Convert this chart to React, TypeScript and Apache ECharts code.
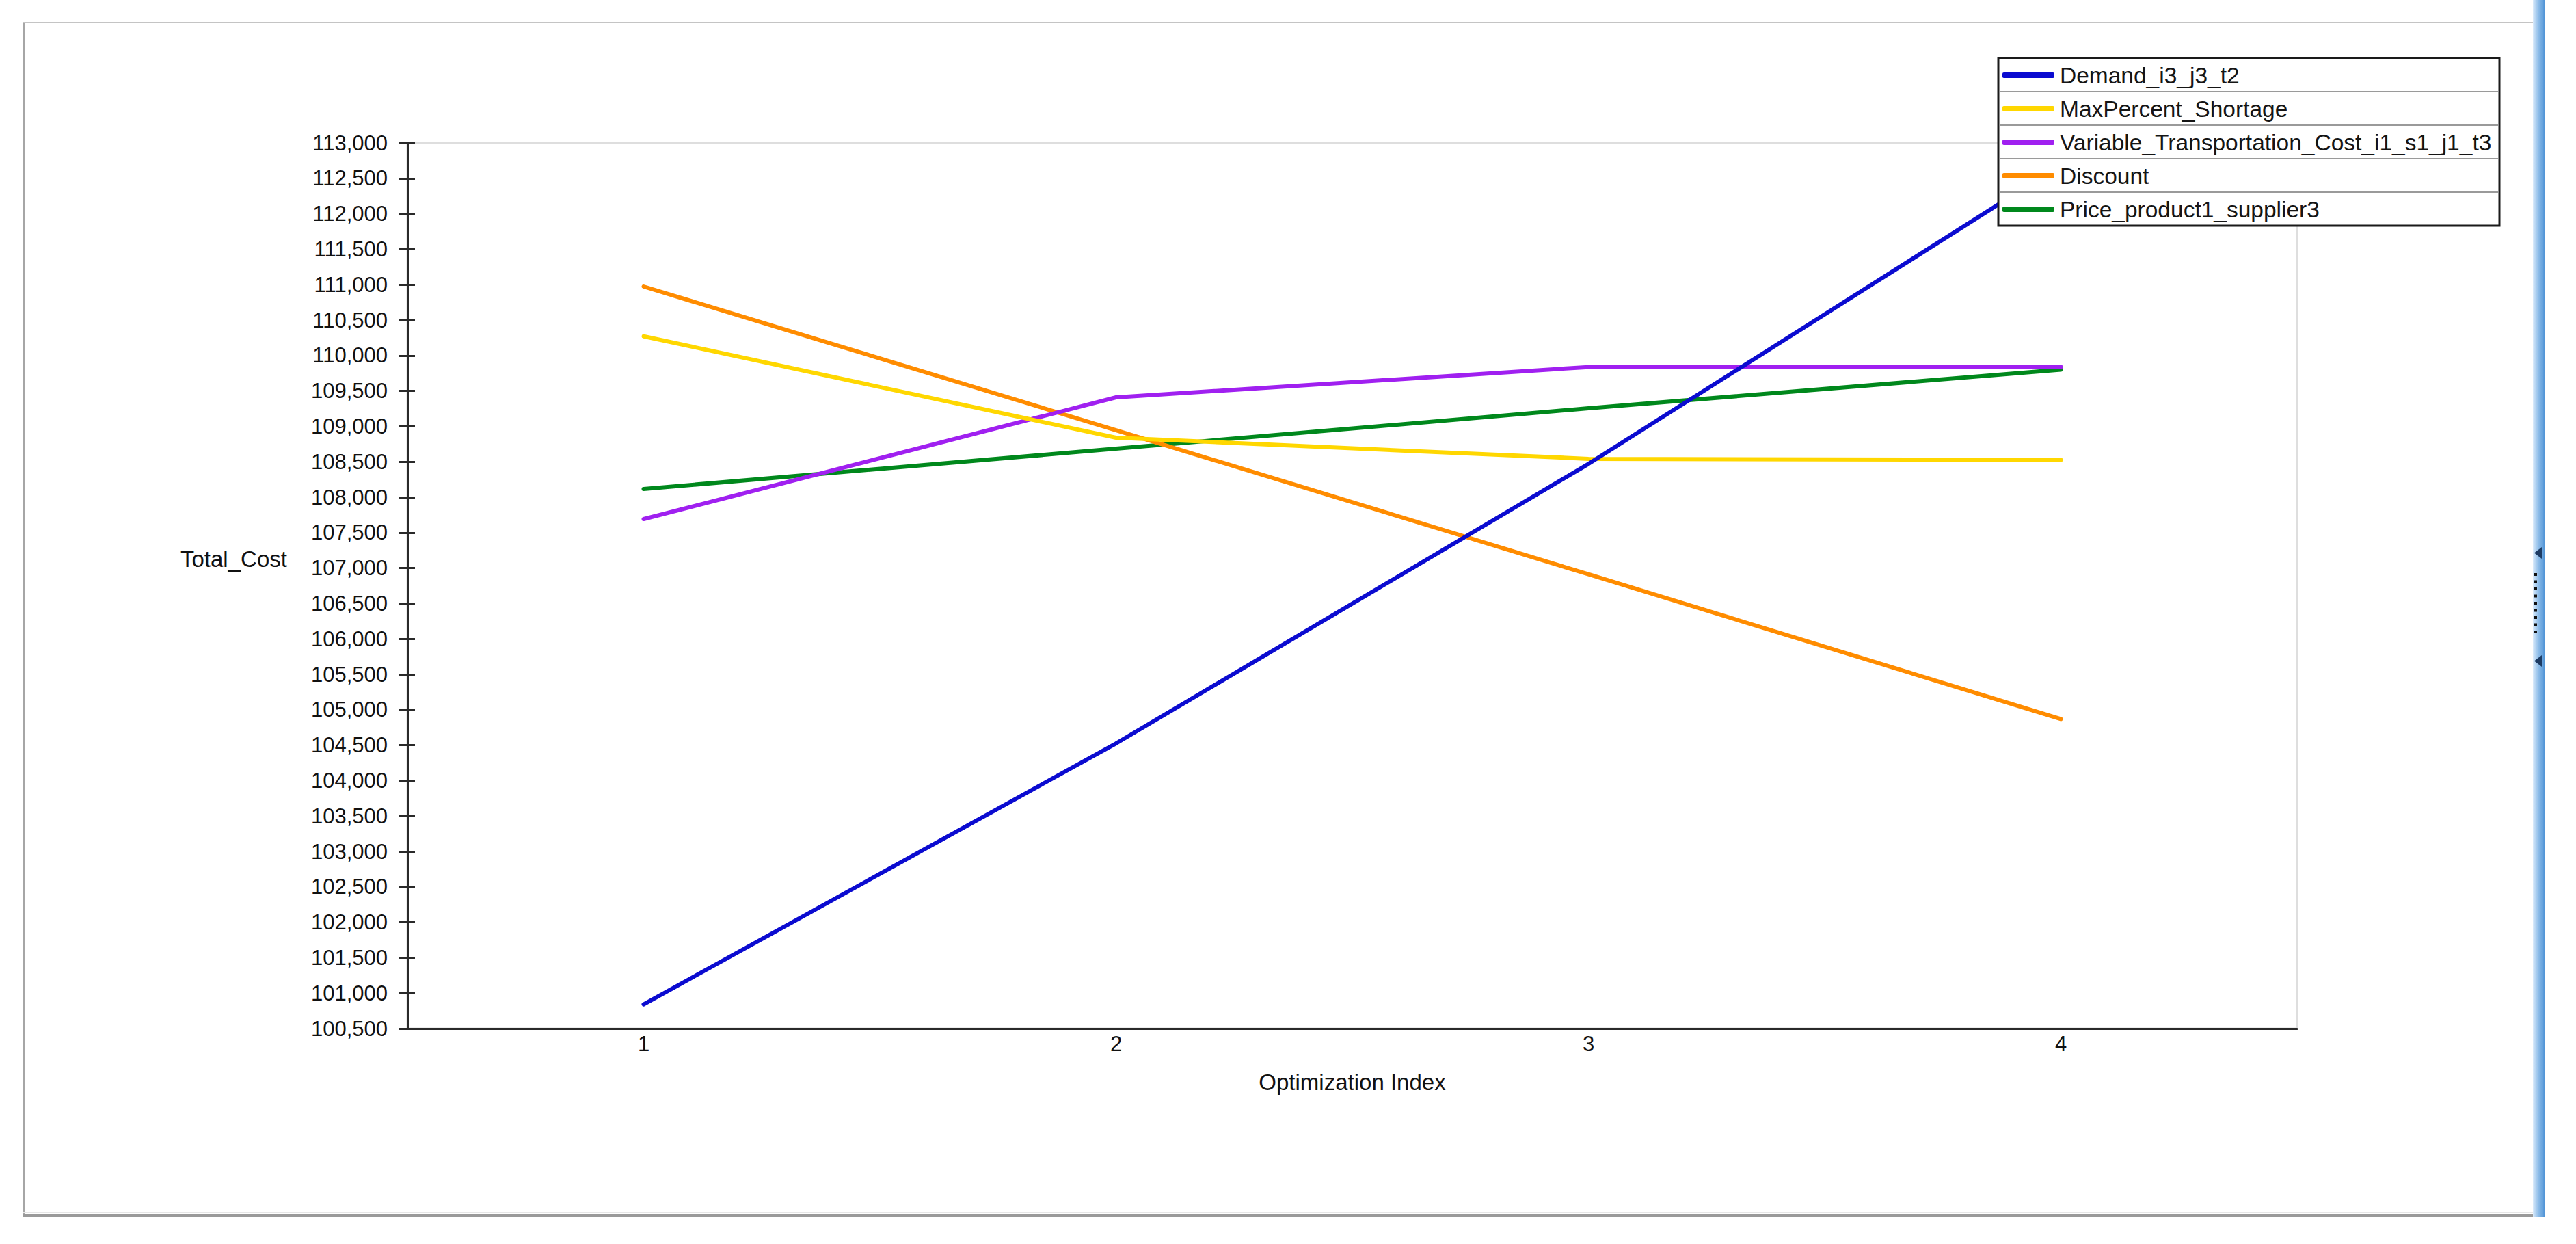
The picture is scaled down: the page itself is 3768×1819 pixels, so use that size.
import React, { useEffect, useRef } from "react";
import * as echarts from "echarts";

const categories = ["1", "2", "3", "4"];
const seriesNames = [
  "Demand_i3_j3_t2",
  "MaxPercent_Shortage",
  "Variable_Transportation_Cost_i1_s1_j1_t3",
  "Discount",
  "Price_product1_supplier3",
];
const demand = [100842, 104525, 108470, 112690];
const maxPercentShortage = [110271, 108840, 108541, 108526];
const variableTransportationCost = [107691, 109409, 109837, 109840];
const discount = [110973, 108945, 106912, 104869];
const priceProduct1Supplier3 = [108116, 108685, 109255, 109800];
const seriesValues = [demand, maxPercentShortage, variableTransportationCost, discount, priceProduct1Supplier3];
const seriesColors = ["#0b0bd0", "#ffd700", "#a020f0", "#ff8c00", "#00881c"];
const yMin = 100500;
const yMax = 113000;
const yInterval = 500;
const xAxisTitle = "Optimization Index";
const yAxisTitle = "Total_Cost";

const FONT = "'Liberation Sans', Arial, sans-serif";

export default function App() {
  const ref = useRef<HTMLDivElement>(null);

  useEffect(() => {
    if (!ref.current) return;
    const chart = echarts.init(ref.current, undefined, { renderer: "svg" });

    const legendLeft = 2923;
    const legendTop = 85;
    const legendW = 733;
    const legendH = 245;
    const rowH = 49;

    const graphics: any[] = [
      // outer frame
      { type: "line", z: 1, shape: { x1: 34, y1: 33, x2: 3705, y2: 33 }, style: { stroke: "#c4c4c4", lineWidth: 2 } },
      { type: "line", z: 1, shape: { x1: 35, y1: 33, x2: 35, y2: 1777 }, style: { stroke: "#a6a6a6", lineWidth: 3 } },
      { type: "line", z: 1, shape: { x1: 34, y1: 1773, x2: 3705, y2: 1773 }, style: { stroke: "#e6e6e6", lineWidth: 2 } },
      { type: "line", z: 1, shape: { x1: 34, y1: 1777, x2: 3705, y2: 1777 }, style: { stroke: "#9a9a9a", lineWidth: 4 } },
      // right blue splitter bar
      {
        type: "rect",
        z: 1,
        shape: { x: 3705, y: 0, width: 17, height: 1779 },
        style: {
          fill: new echarts.graphic.LinearGradient(0, 0, 1, 0, [
            { offset: 0, color: "#d9eafb" },
            { offset: 0.45, color: "#93c0ea" },
            { offset: 1, color: "#4f93d6" },
          ]),
        },
      },
      { type: "polygon", z: 2, shape: { points: [[3718, 800], [3718, 817], [3707, 808.5]] }, style: { fill: "#1d3b63" } },
      { type: "polygon", z: 2, shape: { points: [[3718, 958], [3718, 975], [3707, 966.5]] }, style: { fill: "#1d3b63" } },
      // y-axis title
      {
        type: "text",
        x: 264,
        y: 817,
        style: { text: yAxisTitle, fontSize: 33, fontFamily: FONT, fill: "#111", align: "left", verticalAlign: "middle" },
      },
      // legend box
      {
        type: "rect",
        z: 50,
        shape: { x: legendLeft, y: legendTop, width: legendW, height: legendH },
        style: { fill: "#ffffff", stroke: "#1a1a1a", lineWidth: 3 },
      },
    ];
    for (let i = 0; i < 9; i++) {
      graphics.push({ type: "rect", z: 2, shape: { x: 3707, y: 838 + i * 10.5, width: 4, height: 4 }, style: { fill: "#111" } });
    }
    for (let i = 1; i < seriesNames.length; i++) {
      graphics.push({
        type: "line",
        z: 60,
        shape: { x1: legendLeft + 2, y1: legendTop + i * rowH, x2: legendLeft + legendW - 2, y2: legendTop + i * rowH },
        style: { stroke: "#9a9a9a", lineWidth: 2 },
      });
    }

    chart.setOption({
      animation: false,
      backgroundColor: "#ffffff",
      grid: {
        left: 596,
        top: 209,
        right: 408,
        bottom: 315,
        show: true,
        borderColor: "#dedede",
        borderWidth: 3,
        backgroundColor: "transparent",
      },
      legend: {
        data: seriesNames,
        orient: "vertical",
        left: legendLeft,
        top: legendTop,
        padding: [8, 7, 8, 6],
        itemWidth: 76,
        itemHeight: 8,
        itemGap: 15,
        icon: "roundRect",
        z: 100,
        selectedMode: false,
        textStyle: { fontSize: 33.5, lineHeight: 34, fontFamily: FONT, color: "#151515", padding: [0, 0, 0, 3] },
      },
      xAxis: {
        type: "category",
        data: categories,
        boundaryGap: true,
        name: xAxisTitle,
        nameLocation: "middle",
        nameGap: 62,
        nameTextStyle: { fontSize: 33, fontFamily: FONT, color: "#111" },
        axisLine: { lineStyle: { color: "#2a2a2a", width: 3 } },
        axisTick: { show: false },
        axisLabel: { fontSize: 31, fontFamily: FONT, color: "#111", margin: 7 },
        splitLine: { show: false },
      },
      yAxis: [
        {
          type: "value",
          min: yMin,
          max: yMax,
          interval: yInterval,
          axisLine: { show: true, lineStyle: { color: "#2a2a2a", width: 3 } },
          axisTick: { show: true, length: 12, lineStyle: { color: "#2a2a2a", width: 3 } },
          axisLabel: {
            fontSize: 31,
            fontFamily: FONT,
            color: "#111",
            margin: 29,
            formatter: (v: number) => v.toLocaleString("en-US"),
          },
          splitLine: { show: false },
        },
        {
          type: "value",
          min: yMin,
          max: yMax,
          interval: yInterval,
          position: "left",
          axisLine: { show: false },
          axisTick: { show: true, inside: true, length: 11, lineStyle: { color: "#2a2a2a", width: 3 } },
          axisLabel: { show: false },
          splitLine: { show: false },
        },
      ],
      series: seriesNames.map((name, i) => ({
        name,
        type: "line",
        data: seriesValues[i],
        yAxisIndex: 0,
        symbol: "none",
        smooth: false,
        z: 10 - i,
        color: seriesColors[i],
        lineStyle: { color: seriesColors[i], width: 6, cap: "round", join: "round" },
        itemStyle: { color: seriesColors[i] },
      })),
      graphic: graphics,
    });

    return () => chart.dispose();
  }, []);

  return (
    <div
      ref={ref}
      style={{ position: "fixed", left: 0, top: 0, width: 3768, height: 1819, background: "#fff" }}
    />
  );
}
